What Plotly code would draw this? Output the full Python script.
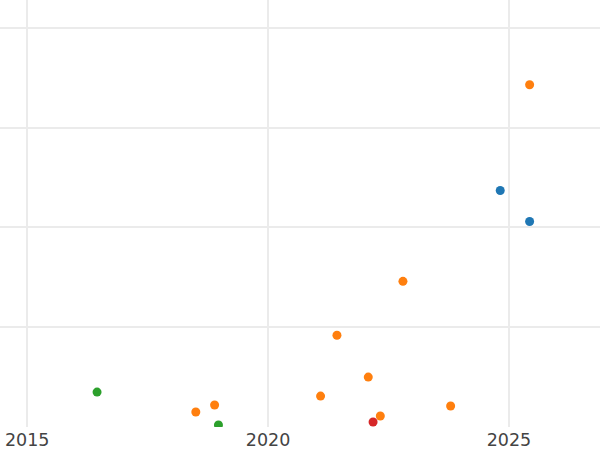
import plotly.graph_objects as go

# Data (arbitrary y units; y labels hidden)
blue_x = [2024.82, 2025.43]
blue_y = [2.37, 2.06]

orange_x = [2018.50, 2018.89, 2021.09, 2021.43, 2022.08, 2022.33, 2022.80, 2023.79, 2025.43]
orange_y = [0.15, 0.22, 0.31, 0.92, 0.50, 0.11, 1.46, 0.21, 3.43]

green_x = [2016.45, 2018.97]
green_y = [0.35, 0.02]

red_x = [2022.18]
red_y = [0.05]

x_ticks = [2015, 2020, 2025]

series = [
    (blue_x, blue_y, "#1f77b4"),
    (orange_x, orange_y, "#ff7f0e"),
    (green_x, green_y, "#2ca02c"),
    (red_x, red_y, "#d62728"),
]

fig = go.Figure()
for xs, ys, col in series:
    fig.add_trace(go.Scatter(x=xs, y=ys, mode="markers",
                             marker=dict(color=col, size=9, line=dict(width=0)),
                             showlegend=False))

fig.update_layout(
    width=600, height=450,
    margin=dict(l=0, r=0, t=0, b=23),
    paper_bgcolor="white", plot_bgcolor="white",
    font=dict(family="DejaVu Sans", size=17.5, color="#444"),
    xaxis=dict(range=[2014.435, 2026.891], tickvals=x_ticks,
               ticktext=[str(t) for t in x_ticks],
               showgrid=True, gridcolor="#ebebeb", gridwidth=2,
               zeroline=False, showline=False, ticks=""),
    yaxis=dict(range=[0, 4.28], dtick=1, tick0=0, showticklabels=False,
               showgrid=True, gridcolor="#ebebeb", gridwidth=2,
               zeroline=False, showline=False, ticks=""),
)

fig.write_html("out.html",
               config={"displayModeBar": False},
               post_script="document.body.style.margin='0';document.body.style.overflow='hidden';")
